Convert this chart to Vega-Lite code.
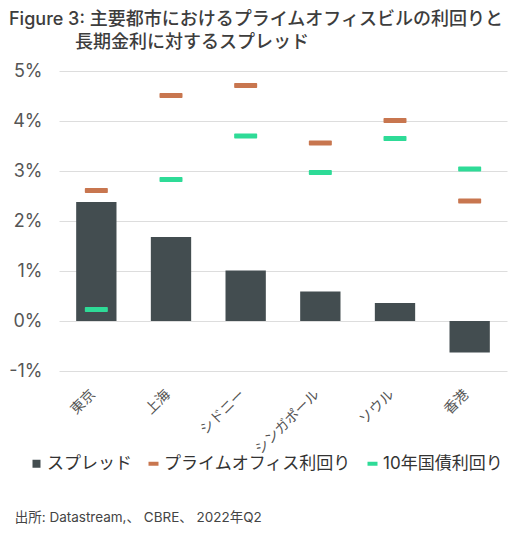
{
  "$schema": "https://vega.github.io/schema/vega-lite/v6.json",
  "background": "white",
  "padding": {"left": 8, "top": 11, "right": 5, "bottom": 5},
  "config": {
    "font": "Inter, Noto Sans CJK JP",
    "view": {"stroke": null}
  },
  "title": {
    "text": "出所: Datastream,、 CBRE、 2022年Q2",
    "orient": "bottom",
    "anchor": "start",
    "frame": "bounds",
    "dx": 6,
    "offset": 39,
    "fontSize": 13.5,
    "fontWeight": "normal",
    "color": "#444444"
  },
  "vconcat": [
    {
      "width": 448,
      "height": 300,
      "title": {
        "text": [
          "Figure 3: 主要都市におけるプライムオフィスビルの利回りと",
          "\u200b\u3000\u3000\u3000\u2002\u2009長期金利に対するスプレッド"
        ],
        "anchor": "start",
        "frame": "group",
        "dx": -50,
        "offset": 10,
        "fontSize": 18,
        "fontWeight": 500,
        "lineHeight": 23,
        "color": "#3d3d3d"
      },
      "data": {
        "values": [
          {"city": "東京", "series": "スプレッド", "value": 2.38},
          {"city": "上海", "series": "スプレッド", "value": 1.68},
          {"city": "シドニー", "series": "スプレッド", "value": 1.01},
          {"city": "シンガポール", "series": "スプレッド", "value": 0.59},
          {"city": "ソウル", "series": "スプレッド", "value": 0.36},
          {"city": "香港", "series": "スプレッド", "value": -0.63},
          {"city": "東京", "series": "プライムオフィス利回り", "value": 2.61},
          {"city": "上海", "series": "プライムオフィス利回り", "value": 4.51},
          {"city": "シドニー", "series": "プライムオフィス利回り", "value": 4.71},
          {"city": "シンガポール", "series": "プライムオフィス利回り", "value": 3.56},
          {"city": "ソウル", "series": "プライムオフィス利回り", "value": 4.01},
          {"city": "香港", "series": "プライムオフィス利回り", "value": 2.4},
          {"city": "東京", "series": "10年国債利回り", "value": 0.23},
          {"city": "上海", "series": "10年国債利回り", "value": 2.83},
          {"city": "シドニー", "series": "10年国債利回り", "value": 3.7},
          {"city": "シンガポール", "series": "10年国債利回り", "value": 2.97},
          {"city": "ソウル", "series": "10年国債利回り", "value": 3.65},
          {"city": "香港", "series": "10年国債利回り", "value": 3.04}
        ]
      },
      "encoding": {
        "x": {
          "field": "city",
          "type": "nominal",
          "sort": null,
          "scale": {"paddingInner": 0.46, "paddingOuter": 0.23},
          "axis": {
            "title": null,
            "labelAngle": -45,
            "labelFontSize": 14,
            "labelColor": "#555555",
            "ticks": false,
            "domain": false,
            "labelPadding": 16,
            "labelOffset": -8
          }
        }
      },
      "layer": [
        {
          "transform": [{"filter": "datum.series === 'スプレッド'"}],
          "mark": {"type": "bar"},
          "encoding": {
            "y": {
              "field": "value",
              "type": "quantitative",
              "scale": {"domain": [-1, 5], "nice": false},
              "axis": {
                "title": null,
                "values": [-1, 0, 1, 2, 3, 4, 5],
                "labelExpr": "datum.value + '%'",
                "labelFontSize": 18,
                "labelColor": "#555555",
                "labelPadding": 17,
                "ticks": false,
                "domain": false,
                "gridColor": "#dddddd",
                "gridWidth": 1
              }
            },
            "color": {
              "field": "series",
              "type": "nominal",
              "scale": {
                "domain": ["スプレッド", "プライムオフィス利回り", "10年国債利回り"],
                "range": ["#434d50", "#c8764f", "#2edb97"]
              },
              "legend": {
                "orient": "none",
                "legendX": -31,
                "legendY": 384,
                "direction": "horizontal",
                "title": null,
                "labelFontSize": 17,
                "labelColor": "#333333",
                "labelLimit": 0,
                "labelOffset": 2,
                "columnPadding": 13,
                "symbolSize": 100,
                "symbolStrokeWidth": 0,
                "symbolOpacity": 1,
                "encode": {
                  "symbols": {
                    "update": {
                      "shape": {"signal": "datum.value === 'スプレッド' ? 'M-0.8,-0.8H0.8V0.8H-0.8Z' : 'M-1,-0.4H1V0.4H-1Z'"},
                      "fill": {"scale": "color", "field": "value"},
                      "strokeWidth": {"value": 0},
                      "opacity": {"value": 1}
                    }
                  }
                }
              }
            }
          }
        },
        {
          "mark": {"type": "rule", "color": "#333333", "strokeWidth": 1.5},
          "encoding": {"y": {"datum": 0}}
        },
        {
          "transform": [{"filter": "datum.series !== 'スプレッド'"}],
          "mark": {"type": "tick", "thickness": 5, "size": 23, "opacity": 1, "cornerRadius": 1},
          "encoding": {
            "y": {"field": "value", "type": "quantitative"},
            "color": {"field": "series", "type": "nominal"}
          }
        }
      ]
    }
  ]
}
